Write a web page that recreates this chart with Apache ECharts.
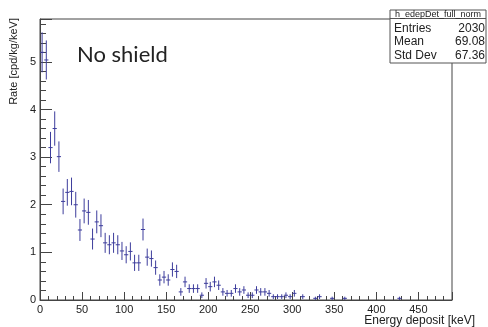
<!DOCTYPE html>
<html>
<head>
<meta charset="utf-8">
<script src="https://cdn.jsdelivr.net/npm/echarts@6/dist/echarts.min.js"></script>
<style>
  html, body { margin: 0; padding: 0; background: #fff; }
  #chart { width: 488px; height: 327px; }
</style>
</head>
<body>
<div id="chart"></div>
<script>
// histogram h_edepDet_full_norm, 5 keV bins, only the non-empty ones
var binWidth = 5;
var energy = [2.5, 7.5, 12.5, 17.5, 22.5, 27.5, 32.5, 37.5, 42.5, 47.5,
  52.5, 57.5, 62.5, 67.5, 72.5, 77.5, 82.5, 87.5, 92.5, 97.5,
  102.5, 107.5, 112.5, 117.5, 122.5, 127.5, 132.5, 137.5, 142.5, 147.5,
  152.5, 157.5, 162.5, 167.5, 172.5, 177.5, 182.5, 187.5, 192.5, 197.5,
  202.5, 207.5, 212.5, 217.5, 222.5, 227.5, 232.5, 237.5, 242.5, 247.5,
  252.5, 257.5, 262.5, 267.5, 272.5, 277.5, 282.5, 287.5, 292.5, 297.5,
  302.5, 312.5, 327.5, 332.5, 347.5, 362.5, 427.5];
var rate = [5.2, 5.04, 3.2, 3.6, 3.01, 2.07, 2.26, 2.28, 2.0, 1.47,
  1.87, 1.84, 1.28, 1.64, 1.56, 1.2, 1.16, 1.2, 1.16, 1.03,
  0.95, 1.02, 0.78, 0.78, 1.48, 0.9, 0.87, 0.68, 0.42, 0.48,
  0.42, 0.64, 0.6, 0.17, 0.38, 0.24, 0.24, 0.24, 0.1, 0.35,
  0.28, 0.38, 0.31, 0.17, 0.14, 0.14, 0.24, 0.17, 0.21, 0.1,
  0.1, 0.21, 0.17, 0.17, 0.14, 0.07, 0.07, 0.07, 0.1, 0.07,
  0.14, 0.07, 0.035, 0.07, 0.035, 0.035, 0.035];
var rateErr = [0.42, 0.41, 0.33, 0.36, 0.32, 0.27, 0.28, 0.29, 0.27, 0.23,
  0.26, 0.26, 0.22, 0.24, 0.24, 0.21, 0.2, 0.21, 0.2, 0.19,
  0.18, 0.19, 0.17, 0.17, 0.23, 0.18, 0.17, 0.15, 0.12, 0.13,
  0.12, 0.15, 0.14, 0.08, 0.11, 0.09, 0.09, 0.09, 0.06, 0.11,
  0.1, 0.11, 0.1, 0.08, 0.07, 0.07, 0.09, 0.08, 0.08, 0.06,
  0.06, 0.08, 0.08, 0.08, 0.07, 0.05, 0.05, 0.05, 0.06, 0.05,
  0.07, 0.05, 0.035, 0.05, 0.035, 0.035, 0.035];

var statNames = ['Entries', 'Mean', 'Std Dev'];
var statValues = ['2030', '69.08', '67.36'];

var points = energy.map(function (e, i) { return [e, rate[i], rateErr[i]]; });

var myChart = echarts.init(document.getElementById('chart'));

var axisFont = { fontFamily: 'Liberation Sans', fontSize: 11, color: '#222' };

var statGraphics = [
  { type: 'rect', shape: { x: 390, y: 10, width: 96, height: 53 },
    style: { fill: '#fff', stroke: '#555', lineWidth: 1 }, z: 100 },
  { type: 'line', shape: { x1: 390, y1: 18.5, x2: 486, y2: 18.5 },
    style: { stroke: '#555', lineWidth: 1 }, z: 101 },
  { type: 'text', x: 438, y: 14.5, z: 101,
    style: { text: 'h_edepDet_full_norm', fontFamily: 'Liberation Sans', fontSize: 9,
      fill: '#222', align: 'center', verticalAlign: 'middle' } }
];
statNames.forEach(function (n, i) {
  var y = 28.5 + i * 13.5;
  statGraphics.push({ type: 'text', x: 394, y: y, z: 101,
    style: { text: n, fontFamily: 'Liberation Sans', fontSize: 12, fill: '#222',
      align: 'left', verticalAlign: 'middle' } });
  statGraphics.push({ type: 'text', x: 485, y: y, z: 101,
    style: { text: statValues[i], fontFamily: 'Liberation Sans', fontSize: 12, fill: '#222',
      align: 'right', verticalAlign: 'middle' } });
});

myChart.setOption({
  animation: false,
  backgroundColor: '#fff',
  grid: { left: 40, right: 36, top: 19, bottom: 27, show: true,
    borderColor: '#444', borderWidth: 1, backgroundColor: 'transparent' },
  xAxis: {
    type: 'value', min: 0, max: 490, interval: 50,
    axisLine: { lineStyle: { color: '#444' } },
    axisTick: { inside: true, length: 8, lineStyle: { color: '#444' } },
    minorTick: { show: true, splitNumber: 5, length: 4, lineStyle: { color: '#444' } },
    axisLabel: Object.assign({ margin: 4, showMaxLabel: false }, axisFont),
    splitLine: { show: false }
  },
  yAxis: {
    type: 'value', min: 0, max: 5.9, interval: 1,
    axisLine: { lineStyle: { color: '#444' } },
    axisTick: { inside: true, length: 12, lineStyle: { color: '#444' } },
    minorTick: { show: true, splitNumber: 5, length: 6, lineStyle: { color: '#444' } },
    axisLabel: Object.assign({ margin: 4, showMaxLabel: false }, axisFont),
    splitLine: { show: false }
  },
  graphic: [
    { type: 'text', left: 77, top: 44, z: 50,
      style: { text: 'No shield', fontFamily: 'Lato', fontSize: 22, fill: '#222' } },
    { type: 'text', x: 14, y: 18, rotation: Math.PI / 2, z: 50,
      style: { text: 'Rate [cpd/kg/keV]', fontFamily: 'Liberation Sans', fontSize: 11,
        fill: '#222', align: 'right', verticalAlign: 'middle' } },
    { type: 'text', x: 475, y: 321, z: 50,
      style: { text: 'Energy deposit [keV]', fontFamily: 'Liberation Sans', fontSize: 12,
        fill: '#222', align: 'right', verticalAlign: 'middle' } }
  ].concat(statGraphics),
  series: [{
    type: 'custom',
    data: points,
    encode: { x: 0, y: 1 },
    clip: true,
    renderItem: function (params, api) {
      var x = api.value(0), v = api.value(1), e = api.value(2);
      var left = api.coord([x - binWidth / 2, v]);
      var right = api.coord([x + binWidth / 2, v]);
      var top = api.coord([x, v + e]);
      var bot = api.coord([x, Math.max(v - e, 0)]);
      var style = { stroke: '#3d3d9c', lineWidth: 1 };
      return {
        type: 'group',
        children: [
          { type: 'line', shape: { x1: left[0], y1: left[1], x2: right[0], y2: right[1] }, style: style },
          { type: 'line', shape: { x1: top[0], y1: top[1], x2: bot[0], y2: bot[1] }, style: style }
        ]
      };
    }
  }]
});
</script>
</body>
</html>
